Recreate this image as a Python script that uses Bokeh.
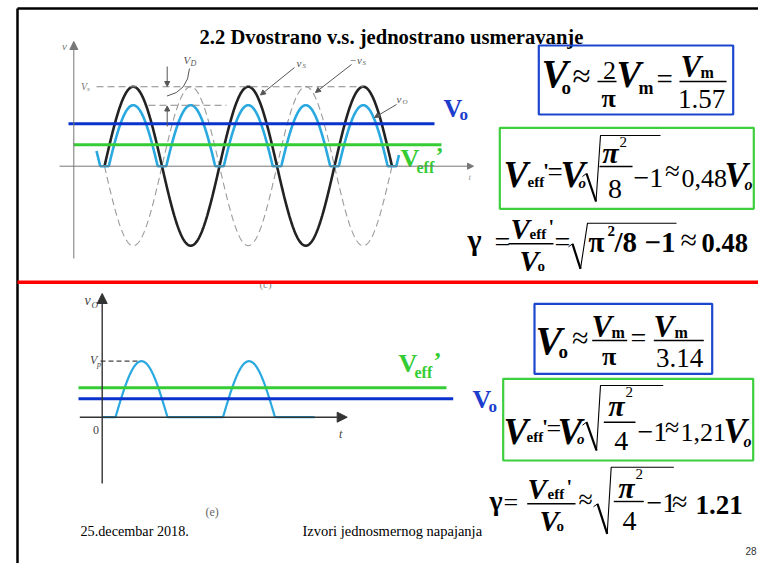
import numpy as np
from bokeh.plotting import figure
from bokeh.models import Range1d, Arrow, NormalHead, VeeHead
from bokeh.core.properties import value
from bokeh.embed import file_html
from bokeh.resources import INLINE

SERIF = "Liberation Serif"
SANS = "Liberation Sans"

# ---------------- texts ----------------
title_text = "2.2 Dvostrano v.s. jednostrano usmeravanje"
footer_date = "25.decembar 2018."
footer_topic = "Izvori jednosmernog napajanja"
page_number = "28"

# ---------------- full-wave diagram (c) ----------------
fw_amp = 79.5          # amplitude of v_S
fw_drop = 18.5         # diode drop V_D
fw_period = 115.0
fw_cycles = 2.5
fw_start = 104.0
fw_zero = 165.7
fw_vo_level = 123.3    # V_o line
fw_veff_level = 144.2  # V_eff' line

# ---------------- half-wave diagram (e) ----------------
hw_amp = 56.0
hw_hump_starts = [115.0, 222.5]
hw_hump_width = 52.0
hw_zero = 416.7
hw_flat = [101.7, 314.0]
hw_veff_level = 387.3
hw_vo_level = 398.3

BLUE_LINE = "#0a32cc"
GREEN_LINE = "#36cc36"
BLUE_TXT = "#1b3ccc"
GREEN_TXT = "#33cc33"
CYAN = "#2aa9e0"
RED = "#ff0000"

p = figure(width=758, height=563, x_range=Range1d(0, 758), y_range=Range1d(563, 0),
           output_backend="svg", toolbar_location=None,
           x_axis_location=None, y_axis_location=None, min_border=0)
p.xgrid.visible = False
p.ygrid.visible = False
p.outline_line_color = None
p.background_fill_color = "white"
p.border_fill_color = "white"


def T(x, y, s, size, style="normal", color="black", align="left", font=SERIF):
    # y is the alphabetic baseline; Bokeh's "middle" centres the ascent/descent box
    off = 0.3375 if font == SERIF else 0.3465
    p.text(x=[x], y=[y - off * size], text=[s], text_font=value(font), text_font_size=f"{size}px",
           text_font_style=style, text_color=color, text_align=align, text_baseline="middle")


def L(xs, ys, color="black", width=1.0, dash="solid"):
    p.line(xs, ys, line_color=color, line_width=width, line_dash=dash)


def AR(x0, y0, x1, y1, color="#666", width=1.0, size=7, head="normal"):
    if head == "normal":
        h = NormalHead(size=size, fill_color=color, line_color=color, line_width=1)
    else:
        h = VeeHead(size=size, fill_color=color, line_color=color, line_width=1)
    p.add_layout(Arrow(end=h, x_start=x0, y_start=y0, x_end=x1, y_end=y1,
                       line_color=color, line_width=width))


# ---------------- frame ----------------
L([17, 758], [8, 8], "black", 2.5)
L([17, 17], [8, 563], "black", 2.5)

# ---------------- title ----------------
T(199, 43, title_text, 20.6, "bold")

# ================= TOP DIAGRAM =================
GR = "#777777"
AR(73.3, 258, 73.3, 41, GR, 1, 8)
AR(59, fw_zero, 473, fw_zero, GR, 1, 6)
T(61.5, 49, "v", 11, "italic", GR)
T(468, 180, "t", 9, "italic", "#999")

x = np.linspace(fw_start, fw_start + fw_cycles * fw_period, 700)
ph = 2 * np.pi * (x - fw_start) / fw_period
L(x, fw_zero + fw_amp * np.sin(ph), "#9a9a9a", 1.1, "7 4")
L(x, fw_zero - fw_amp * np.sin(ph), "#222222", 2.6)
xo = np.linspace(fw_start - 8, fw_start + fw_cycles * fw_period + 7, 900)
vo = np.clip(fw_amp * np.abs(np.sin(2 * np.pi * (xo - fw_start) / fw_period)) - fw_drop, 0, None)
L(xo, fw_zero - vo, CYAN, 2.6)

# dashed reference levels
L([96, 363], [fw_zero - fw_amp, fw_zero - fw_amp], "#8a8a8a", 1.1, "7 4")
L([148, 226], [fw_zero - fw_amp + fw_drop, fw_zero - fw_amp + fw_drop], "#8a8a8a", 1.1, "7 4")
T(80.5, 89, "V", 10, "italic", GR)
T(86.5, 91, "s", 7, "italic", GR)

# V_D arrows and leader
AR(166.7, 66, 166.7, 86, "#555", 1, 5)
AR(166.7, 126, 166.7, 105.5, "#555", 1, 5)
p.quadratic(x0=[189], y0=[68], x1=[166.5], y1=[95.5], cx=[187.5], cy=[91],
            line_color="#555", line_width=1)
T(183, 63, "V", 11, "italic", "#555")
T(190, 65.5, "D", 8, "italic", "#555")

# v_S, -v_S, v_O labels
T(296, 66, "v", 11, "italic", "#555")
T(302, 68, "S", 7, "italic", "#555")
AR(294, 67, 260, 94.5, "#555", 1, 5)
T(349, 63, "−v", 11, "italic", "#555")
T(362, 65, "S", 7, "italic", "#555")
AR(351, 64, 315, 92, "#555", 1, 5)
T(396, 102, "v", 11, "italic", "#555")
T(402, 104, "O", 7, "italic", "#555")
AR(396, 104, 374, 117, "#555", 1, 5)

# V_o and V_eff' levels
L([68, 434], [fw_vo_level, fw_vo_level], BLUE_LINE, 3)
L([73, 441], [fw_veff_level, fw_veff_level], GREEN_LINE, 3)
T(443, 116.7, "V", 26, "bold", BLUE_TXT)
T(459, 120, "o", 17, "bold", BLUE_TXT)
T(400, 166.7, "V", 26, "bold", GREEN_TXT)
T(416, 172, "eff", 16, "bold", GREEN_TXT)
T(435, 163, "’", 24, "bold", GREEN_TXT)

T(265, 287, "(c)", 11, "normal", "#888", "center")

# separator
L([17, 758], [281.7, 281.7], RED, 3.6)

# ================= BOTTOM DIAGRAM =================
DK = "#333333"
AR(101.7, 483, 101.7, 293, DK, 1.4, 10)
AR(79.3, hw_zero, 346.7, hw_zero, DK, 1.4, 10)
T(84, 305, "v", 14, "italic", "#444")
T(91, 307.5, "O", 9, "italic", "#444")
T(89.5, 364, "V", 12, "italic", "#444")
T(96.5, 367, "p", 8, "italic", "#444")
T(92.5, 434, "0", 12, "normal", "#444")
T(338.5, 438, "t", 12, "italic", "#444")
L([100, 141.7], [hw_zero - hw_amp, hw_zero - hw_amp], "#444", 1.2, "5 3")

xh = np.linspace(hw_flat[0], hw_flat[1], 900)
vh = np.zeros_like(xh)
for s in hw_hump_starts:
    m = (xh >= s) & (xh <= s + hw_hump_width)
    vh[m] = hw_amp * np.sin(np.pi * (xh[m] - s) / hw_hump_width)
L(xh, hw_zero - vh, CYAN, 2.2)

L([78, 446], [hw_veff_level, hw_veff_level], GREEN_LINE, 3)
L([78, 452.7], [hw_vo_level, hw_vo_level], BLUE_LINE, 3)
T(398, 371.7, "V", 26, "bold", GREEN_TXT)
T(414, 377, "eff", 16, "bold", GREEN_TXT)
T(433, 368, "’", 24, "bold", GREEN_TXT)
T(472, 407.5, "V", 26, "bold", BLUE_TXT)
T(488, 412, "o", 17, "bold", BLUE_TXT)

T(211.7, 516, "(e)", 12, "normal", "#666", "center")

# footer
T(80, 535, footer_date, 14.2)
T(302, 535, footer_topic, 14.5)
T(745, 554, page_number, 10, "normal", "#333", font=SANS)

# ================= FORMULAS =================
BOXB = "#1d46cf"
BOXG = "#3dcf3d"


def box(x0, x1, y0, y1, c):
    p.quad(left=[x0], right=[x1], top=[y0], bottom=[y1], fill_color=None, line_color=c, line_width=2.2)


def bar(x0, x1, y, w=1.4):
    L([x0, x1], [y, y], "black", w)


def radical(xa, ya, xb, yb, xc, yc, xe):
    L([xa - 4, xa], [ya + 3, ya], "black", 1.0)
    L([xa, xb], [ya, yb], "black", 2.2)
    L([xb, xc, xe], [yb, yc, yc], "black", 1.1)


def approx(xl, cy, size):
    T(xl, cy + 0.25 * size, "≈", size)


# --- top blue box: V_o ≈ (2/π) V_m = V_m / 1.57
box(538.3, 732.7, 45, 114, BOXB)
T(541, 86.7, "V", 40, "bold italic")
T(561, 93.5, "o", 19, "bold")
approx(572, 78.5, 33)
T(609, 79, "2", 26, "normal", align="center")
bar(597, 616, 81)
T(608, 106.7, "π", 26, "bold", align="center")
T(616, 86, "V", 37, "bold italic")
T(638, 93.5, "m", 18, "bold")
T(656, 88.5, "=", 29)
T(680, 76.5, "V", 31, "bold italic")
T(700, 77, "m", 16, "bold")
bar(679, 726, 81)
T(701, 108, "1.57", 27, "normal", align="center")

# --- top green box: V_eff' = V_o sqrt(π²/8 − 1) ≈ 0,48 V_o
box(499.3, 753.3, 127.3, 208.3, BOXG)
T(503, 186.7, "V", 37, "bold italic")
T(527, 186.7, "eff", 15, "bold")
T(542.5, 177, "'", 22, "bold")
T(547, 180.5, "=", 27)
T(560, 186.7, "V", 37, "bold italic")
T(578, 188, "o", 15, "bold italic")
radical(586, 173, 595.5, 201, 600, 135, 660)
T(610, 161.7, "π", 30, "bold italic", align="center")
T(619, 147, "2", 15)
bar(599, 632, 166)
T(614.5, 198, "8", 28, align="center")
T(633, 186.7, "−1", 28)
approx(664.5, 173, 27)
T(681, 186.7, "0,48", 26)
T(724, 186.7, "V", 35, "bold italic")
T(744, 189, "o", 16, "bold italic")

# --- top gamma: γ = V_eff'/V_o = sqrt(π²/8 − 1) ≈ 0.48
T(467, 249, "γ", 30, "bold")
T(494, 250.5, "=", 28)
T(510, 238.3, "V", 29, "bold italic")
T(529, 238.3, "eff", 15, "bold")
T(548, 233, "'", 20, "bold")
bar(508, 553, 243.3)
T(519, 270, "V", 29, "bold italic")
T(537, 271, "o", 15, "bold")
T(554, 250.5, "=", 28)
radical(572, 243.3, 580, 268.3, 587, 222.7, 676)
T(588, 251.7, "π", 29, "bold")
T(607, 236, "2", 15, "bold")
T(614, 251.7, "/8", 29, "bold")
T(644, 251.7, "−1", 29, "bold")
approx(680, 241.7, 30)
T(701, 251.7, "0.48", 26.5, "bold")

# --- bottom blue box: V_o ≈ V_m/π = V_m/3.14
box(534, 711.7, 303.3, 373.3, BOXB)
T(535, 353.3, "V", 40, "bold italic")
T(558, 357.5, "o", 19, "bold")
approx(571.5, 339.5, 30)
T(591, 336.7, "V", 31, "bold italic")
T(611, 337, "m", 16, "bold")
bar(591.7, 626.7, 340)
T(608.5, 365, "π", 26, "bold", align="center")
T(630, 346.8, "=", 28)
T(653, 336.7, "V", 31, "bold italic")
T(674, 337, "m", 16, "bold")
bar(653.3, 703.3, 340)
T(679, 366.7, "3.14", 27, align="center")

# --- bottom green box: V_eff' = V_o sqrt(π²/4 − 1) ≈ 1,21 V_o
box(502.7, 752.7, 378.3, 460, BOXG)
T(503, 443.3, "V", 37, "bold italic")
T(526, 442, "eff", 15, "bold")
T(541.5, 433, "'", 22, "bold")
T(546, 436.5, "=", 26)
T(557, 443.3, "V", 37, "bold italic")
T(576.5, 444, "o", 15, "bold italic")
radical(586, 421.7, 596, 450, 600, 385, 662.7)
T(616, 415, "π", 30, "bold italic", align="center")
T(625, 397, "2", 15)
bar(603.3, 635, 421.7)
T(620.8, 450, "4", 28, align="center")
T(637, 441, "−1", 28)
approx(664.5, 429.3, 26)
T(680, 441, "1,21", 26)
T(723, 443.3, "V", 35, "bold italic")
T(743, 446, "o", 16, "bold italic")

# --- bottom gamma: γ = V_eff'/V_o ≈ sqrt(π²/4 − 1) ≈ 1.21
T(489, 509, "γ", 28, "bold")
T(503, 510.3, "=", 26)
T(527, 498.3, "V", 29, "bold italic")
T(547, 498.5, "eff", 15, "bold")
T(566, 493, "'", 20, "bold")
bar(526.7, 575, 503.3)
T(539, 530, "V", 29, "bold italic")
T(556, 531, "o", 15, "bold")
approx(578, 501.7, 26)
radical(597, 503.3, 606.7, 533.3, 610.7, 466.7, 673.3)
T(626, 496.7, "π", 30, "bold italic", align="center")
T(635, 479, "2", 15)
bar(613.3, 643.3, 501)
T(629, 530, "4", 28, align="center")
T(646, 511.7, "−1", 28)
approx(671.5, 503.3, 28)
T(695, 513.3, "1.21", 27, "bold")

open("out.html", "w").write(file_html(p, INLINE))
